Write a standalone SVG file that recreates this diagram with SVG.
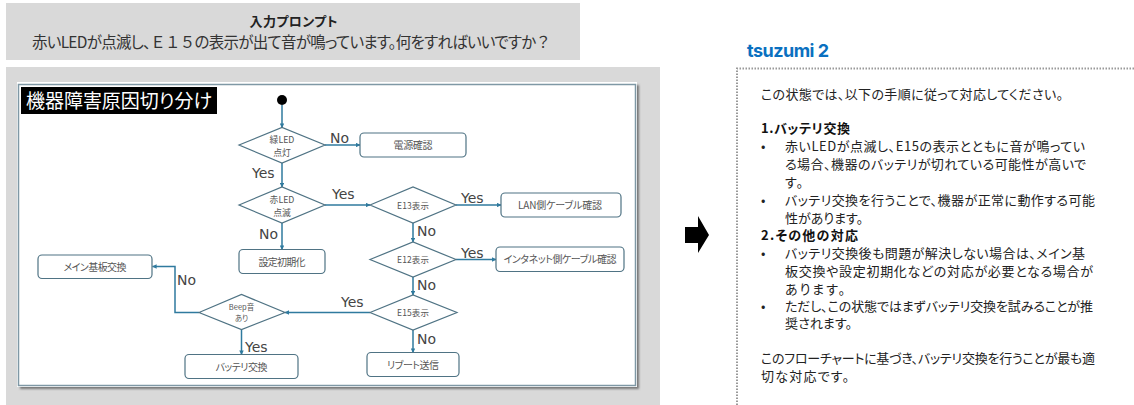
<svg xmlns="http://www.w3.org/2000/svg" width="1134" height="405" viewBox="0 0 1134 405">
<style>
text{font-family:"Noto Sans CJK JP","Liberation Sans",sans-serif;font-feature-settings:"palt"}
.f{font-feature-settings:normal}
.n{fill:#fff;stroke:#4f7384;stroke-width:1.2}
.t{font-size:10px;fill:#555;text-anchor:middle}
.u{font-size:8.8px;fill:#555;text-anchor:middle}
.s{font-size:8.5px;fill:#555;text-anchor:middle}
.c{fill:none;stroke:#2f7a9e;stroke-width:1.5;marker-end:url(#a)}
.l{font-family:"DejaVu Sans",sans-serif;font-size:14px;fill:#444}
.r{font-size:13px;fill:#222}
.b{font-weight:700;fill:#111}
.h{font-family:Inter,"Liberation Sans",sans-serif;font-size:18px;font-weight:700;fill:#0a70c0}
</style>
<defs>
<marker id="a" viewBox="0 0 6 6" refX="5.5" refY="3" markerWidth="3" markerHeight="3" orient="auto"><path d="M0 0L6 3L0 6z" fill="#2f7a9e"/></marker>
<filter id="sh" x="-5%" y="-5%" width="110%" height="110%"><feGaussianBlur stdDeviation="1.2"/></filter>
</defs>
<rect width="1134" height="405" fill="#fff"/>
<g id="prompt">
<rect x="6" y="3" width="574" height="57" fill="#d9d9d9"/>
<text x="293.500" y="25.500" font-size="13" font-weight="700" fill="#222" text-anchor="middle" textLength="88">入力プロンプト</text>
<text x="32" y="47.500" font-size="15.500" fill="#333" textLength="519">赤いLEDが点滅し、<tspan class="f">Ｅ１５</tspan>の表示が出て音が鳴っています。何をすればいいですか<tspan class="f">？</tspan></text>
</g>
<g id="panel">
<rect x="6" y="67" width="654" height="338" fill="#d9d9d9"/>
<rect x="20" y="85" width="619" height="304" fill="#777" filter="url(#sh)"/>
<rect x="17" y="82" width="620" height="305" fill="#fff"/>
<rect x="18.500" y="84.500" width="617" height="301" fill="#fff" stroke="#7f98a5" stroke-width="1.500"/>
</g>
<g id="title">
<rect x="21" y="87" width="196" height="27" fill="#000"/>
<text x="26" y="107.500" font-size="19" fill="#fff" textLength="186">機器障害原因切り分け</text>
</g>
<g id="connectors">
<path class="c" d="M282 105V127.500"/>
<path class="c" d="M282 163V187"/>
<path class="c" d="M325 145H360"/>
<path class="c" d="M282 223V249.500"/>
<path class="c" d="M325 205H370"/>
<path class="c" d="M456 205H501"/>
<path class="c" d="M413 223V242"/>
<path class="c" d="M456 259.500H496"/>
<path class="c" d="M413 277V295"/>
<path class="c" d="M413 330V352.500"/>
<path class="c" d="M370 312.500H285"/>
<path class="c" d="M241.500 329.500V354.500"/>
<path class="c" d="M199 312.500H175V266.500H152.500"/>
</g>
<g id="start"><circle cx="282" cy="100" r="5" fill="#000"/></g>
<g id="d1"><path class="n" d="M239 145L282 127.500L325 145L282 163Z"/><text class="u"><tspan x="282" y="143.200">緑LED</tspan><tspan x="282" y="156">点灯</tspan></text></g>
<g id="d2"><path class="n" d="M239 205L282 187L325 205L282 223Z"/><text class="u"><tspan x="282" y="203">赤LED</tspan><tspan x="282" y="215.800">点滅</tspan></text></g>
<g id="d3"><path class="n" d="M370 205L413 187L456 205L413 223Z"/><text class="s" x="413" y="209" textLength="32">E13表示</text></g>
<g id="d4"><path class="n" d="M370 259.500L413 242L456 259.500L413 277Z"/><text class="s" x="413" y="263" textLength="32">E12表示</text></g>
<g id="d5"><path class="n" d="M370 312.500L413 295L457 312.500L413 330Z"/><text class="s" x="413" y="316" textLength="32">E15表示</text></g>
<g id="d6"><path class="n" d="M199 312.500L241.500 294.500L285 312.500L241.500 329.500Z"/><text class="s" font-size="7"><tspan x="241.500" y="310" style="font-size:7.500px">Beep音</tspan><tspan x="241.500" y="321" style="font-size:7.500px">あり</tspan></text></g>
<g id="b1"><rect class="n" x="360" y="133" width="106" height="24" rx="4"/><text class="t" x="413" y="149" textLength="39">電源確認</text></g>
<g id="b2"><rect class="n" x="501" y="193" width="120" height="24" rx="4"/><text class="t" x="560" y="209" textLength="84">LAN側ケーブル確認</text></g>
<g id="b3"><rect class="n" x="496" y="247" width="128" height="24.500" rx="4"/><text class="t" x="560" y="263" textLength="113">インタネット側ケーブル確認</text></g>
<g id="b4"><rect class="n" x="239" y="249.500" width="86" height="24" rx="4"/><text class="t" x="282" y="266" textLength="47">設定初期化</text></g>
<g id="b5"><rect class="n" x="38" y="255" width="114" height="23.500" rx="4"/><text class="t" x="95" y="271" textLength="63">メイン基板交換</text></g>
<g id="b6"><rect class="n" x="367" y="352.500" width="92" height="24" rx="4"/><text class="t" x="413" y="369" textLength="52">リブート送信</text></g>
<g id="b7"><rect class="n" x="185" y="354.500" width="113" height="24" rx="4"/><text class="t" x="241.500" y="371" textLength="52">バッテリ交換</text></g>
<g id="labels">
<text class="l" x="330" y="143">No</text>
<text class="l" x="252" y="178">Yes</text>
<text class="l" x="332" y="199">Yes</text>
<text class="l" x="461" y="203">Yes</text>
<text class="l" x="417" y="236">No</text>
<text class="l" x="461" y="258">Yes</text>
<text class="l" x="259" y="239">No</text>
<text class="l" x="417" y="290">No</text>
<text class="l" x="341" y="307">Yes</text>
<text class="l" x="177" y="285">No</text>
<text class="l" x="417" y="344">No</text>
<text class="l" x="245" y="352">Yes</text>
</g>
<g id="arrow"><path d="M685 227H698V216L709 235L698 253V243H685Z" fill="#000"/></g>
<g id="result">
<text class="h" x="747" y="57" textLength="82">tsuzumi 2</text>
<path d="M737 405V68.500H1134" fill="none" stroke="#999" stroke-width="2" stroke-dasharray="1.500 1.500"/>
<text class="r" x="761" y="99" textLength="302">この状態では、以下の手順に従って対応してください。</text>
<text class="r b" x="761" y="133" textLength="89">1.バッテリ交換</text>
<text class="r" x="761" y="151">•</text>
<text class="r" x="785" y="151" textLength="300">赤いLEDが点滅し、E15の表示とともに音が鳴ってい</text>
<text class="r" x="785" y="169" textLength="301">る場合、機器のバッテリが切れている可能性が高いで</text>
<text class="r" x="785" y="187" textLength="18">す。</text>
<text class="r" x="761" y="205">•</text>
<text class="r" x="785" y="205" textLength="310">バッテリ交換を行うことで、機器が正常に動作する可能</text>
<text class="r" x="785" y="223" textLength="78">性があります。</text>
<text class="r b" x="761" y="240" textLength="97">2.その他の対応</text>
<text class="r" x="761" y="258">•</text>
<text class="r" x="785" y="258" textLength="300">バッテリ交換後も問題が解決しない場合は、メイン基</text>
<text class="r" x="785" y="276" textLength="308">板交換や設定初期化などの対応が必要となる場合が</text>
<text class="r" x="785" y="294" textLength="60">あります。</text>
<text class="r" x="761" y="311">•</text>
<text class="r" x="785" y="311" textLength="308">ただし、この状態ではまずバッテリ交換を試みることが推</text>
<text class="r" x="785" y="328" textLength="67">奨されます。</text>
<text class="r" x="761" y="363" textLength="334">このフローチャートに基づき、バッテリ交換を行うことが最も適</text>
<text class="r" x="761" y="381" textLength="88">切な対応です。</text>
</g>
</svg>
